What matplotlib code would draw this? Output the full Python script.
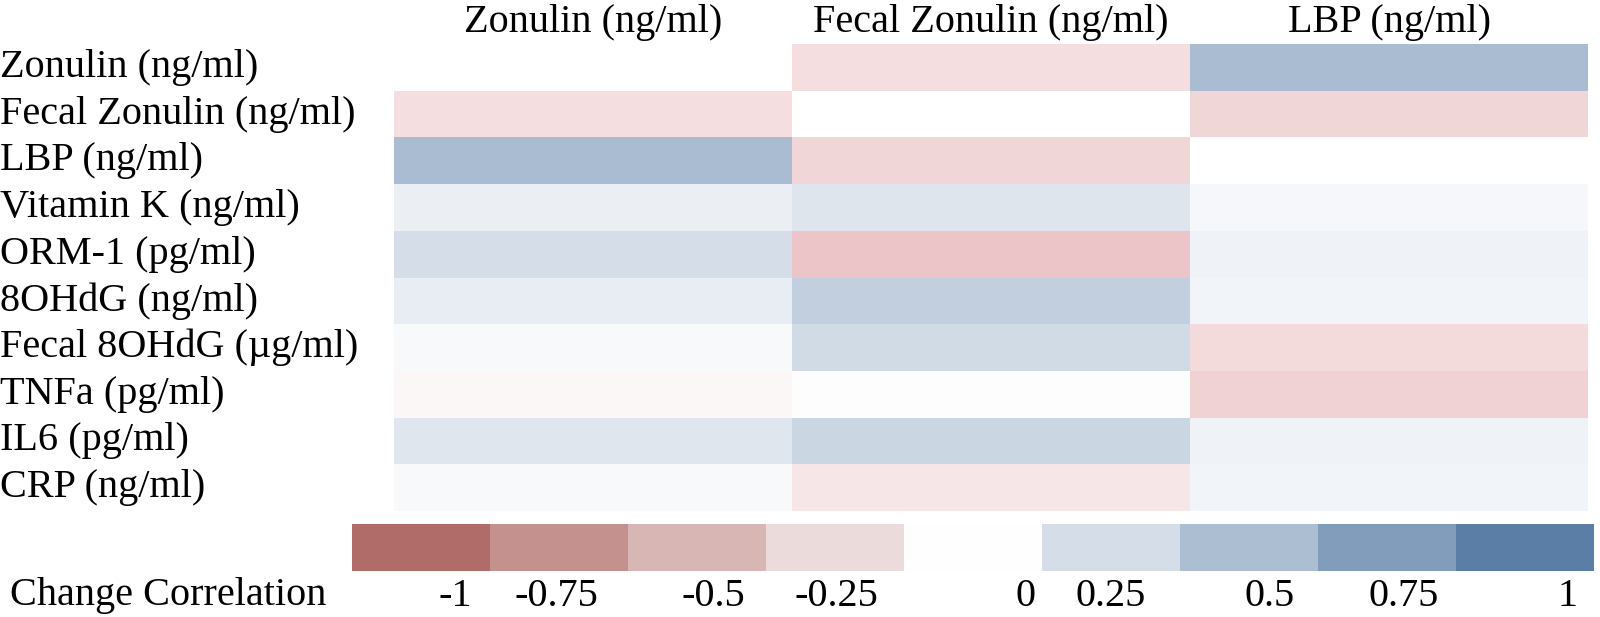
import numpy as np
import matplotlib.pyplot as plt
import matplotlib.transforms as mtransforms
from matplotlib.colors import LinearSegmentedColormap

plt.rcParams['font.family'] = ['Liberation Serif', 'DejaVu Serif']

# 列與欄的名稱
rows = ["Zonulin (ng/ml)", "Fecal Zonulin (ng/ml)", "LBP (ng/ml)", "Vitamin K (ng/ml)",
        "ORM-1 (pg/ml)", "8OHdG (ng/ml)", "Fecal 8OHdG (\u00b5g/ml)", "TNFa (pg/ml)",
        "IL6 (pg/ml)", "CRP (ng/ml)"]
cols = ["Zonulin (ng/ml)", "Fecal Zonulin (ng/ml)", "LBP (ng/ml)"]

# 相關係數 (對角線留白)
zonulin = [np.nan, -0.20, 0.52, 0.12, 0.26, 0.14, 0.04, -0.05, 0.19, 0.04]
fecal_zonulin = [-0.20, np.nan, -0.25, 0.20, -0.35, 0.37, 0.28, 0.01, 0.32, -0.15]
lbp = [0.52, -0.25, np.nan, 0.06, 0.10, 0.08, -0.22, -0.27, 0.10, 0.08]

legend_vals = [-1, -0.75, -0.5, -0.25, 0, 0.25, 0.5, 0.75, 1]
legend_text = ["-1", "-0.75", "-0.5", "-0.25", "0", "0.25", "0.5", "0.75", "1"]
legend_pos = [0.75, 1.48, 2.62, 3.51, 4.88, 5.5, 6.65, 7.62, 8.81]

data = np.array([zonulin, fecal_zonulin, lbp]).T

# 熱圖的紅色偏粉紅，圖例的紅色偏褐色
cmap = LinearSegmentedColormap.from_list(
    "rb", [(0, "#c85a60"), (0.5, "#ffffff"), (1, "#5a7ea6")])
cmap.set_bad("white")
lcmap = LinearSegmentedColormap.from_list(
    "rb_leg", [(0, "#b06c69"), (0.5, "#ffffff"), (1, "#5a7ea6")])

fig = plt.figure(figsize=(16, 6.17), dpi=100)

# 主熱圖
ax = fig.add_axes([394/1600, 1-511/617, (1588-394)/1600, (511-44)/617])
ax.pcolormesh(np.ma.masked_invalid(data), cmap=cmap, vmin=-1, vmax=1)
ax.set_xlim(0, 3)
ax.set_ylim(len(rows), 0)
ax.xaxis.tick_top()
ax.set_xticks(np.arange(3) + 0.5)
ax.set_xticklabels(cols, fontsize=29)
ax.tick_params(length=0, pad=2)
ax.set_yticks([])
for s in ax.spines.values():
    s.set_visible(False)

trans = mtransforms.blended_transform_factory(fig.transFigure, ax.transData)
for i, r in enumerate(rows):
    ax.text(0.0, i + 0.5, r, transform=trans, ha="left", va="center", fontsize=29)

# 圖例
lax = fig.add_axes([352/1600, 1-571/617, (1594-352)/1600, (571-524)/617])
lvals = np.array([legend_vals], dtype=float)
lax.pcolormesh(lvals, cmap=lcmap, vmin=-1, vmax=1)
lax.set_xlim(0, len(legend_vals))
lax.set_yticks([])
lax.set_xticks(legend_pos)
lax.set_xticklabels(legend_text, fontsize=29)
lax.tick_params(length=0, pad=5)
for s in lax.spines.values():
    s.set_visible(False)
fig.text(10/1600, 1-596/617, "Change Correlation", ha="left", va="center", fontsize=29)

plt.savefig("out.png")
